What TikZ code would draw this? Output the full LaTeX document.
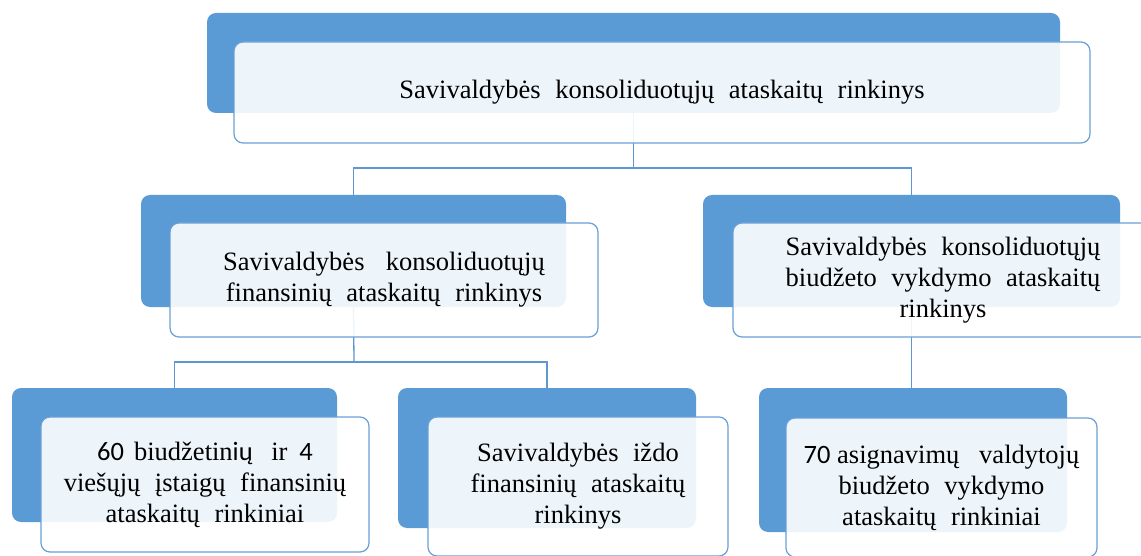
\documentclass[tikz,border=0pt]{standalone}
\usepackage{fontspec}
\setmainfont{Liberation Serif}
\newfontfamily\numfont{Carlito}
\definecolor{backblue}{HTML}{5B9BD5}
\definecolor{frontline}{HTML}{6A9FD8}
\definecolor{linkblue}{HTML}{5F97D0}
\newcommand\boxfont{\fontsize{26.5}{31}\selectfont\spaceskip=0.55em plus 0.2em minus 0.1em\relax}
\begin{document}
\begin{tikzpicture}[
        x = 1pt, y = -1pt,
        back/.style = {fill = backblue, draw = none, rounded corners = 9pt, inner sep = 0pt},
        front/.style = {draw = frontline, line width = 1.2pt, fill = white, fill opacity = 0.9,
            text opacity = 1, rounded corners = 9pt, inner sep = 0pt, align = center, font = \boxfont},
        link/.style = {draw = linkblue, line width = 1.3pt}
    ]
        \useasboundingbox (0,0) rectangle (1141,556);
        \clip (0,0) rectangle (1141,556);
        % back boxes
        \node[back, minimum width = 853pt, minimum height = 100pt] (topB) at (633.5,63) {};
        \node[back, minimum width = 425pt, minimum height = 112pt] (finB) at (353.5,251) {};
        \node[back, minimum width = 417pt, minimum height = 112pt] (budB) at (911.5,251) {};
        \node[back, minimum width = 325pt, minimum height = 134pt] (istB) at (174.5,455) {};
        \node[back, minimum width = 298pt, minimum height = 140pt] (izdB) at (547,458) {};
        \node[back, minimum width = 308pt, minimum height = 144pt] (asgB) at (913,460) {};
        % connectors
        \coordinate (j1) at (633.5,168);
        \coordinate (j2) at (354,362);
        \draw[link] (topB.south) -- (j1);
        \draw[link] (finB.north) |- (j1) -| (budB.north);
        \draw[link] (finB.south) -- (j2);
        \draw[link] (istB.north) |- (j2) -| (izdB.north);
        \draw[link] (budB.south) -- (budB.south |- asgB.north);
        % front boxes
        \node[front, minimum width = 856pt, minimum height = 101pt] (top) at (662,92.5)
            {Savivaldybės konsoliduotųjų ataskaitų rinkinys};
        \node[front, minimum width = 428pt, minimum height = 114pt] (fin) at (384,280)
            {Savivaldybės\hspace{0.8em}konsoliduotųjų\\finansinių ataskaitų rinkinys};
        \node[front, minimum width = 420pt, minimum height = 114pt] (bud) at (943,280)
            {Savivaldybės konsoliduotųjų\\biudžeto vykdymo ataskaitų\\rinkinys};
        \node[front, minimum width = 328pt, minimum height = 135pt] (ist) at (205,484.5)
            {{\numfont 60}\hspace{0.38em}biudžetin{\numfont ių}\hspace{0.7em}ir\hspace{0.45em}{\numfont 4}\\viešųjų įstaigų finansinių\\ataskaitų rinkiniai};
        \node[front, minimum width = 300pt, minimum height = 139pt] (izd) at (578,486.5)
            {Savivaldybės iždo\\finansinių ataskaitų\\rinkinys};
        \node[front, minimum width = 311pt, minimum height = 139pt] (asg) at (941.5,487.5)
            {{\numfont 70}\hspace{0.25em}asignavimų\hspace{0.75em}valdytojų\\biudžeto vykdymo\\ataskaitų rinkiniai};
    \end{tikzpicture}
\end{document}
